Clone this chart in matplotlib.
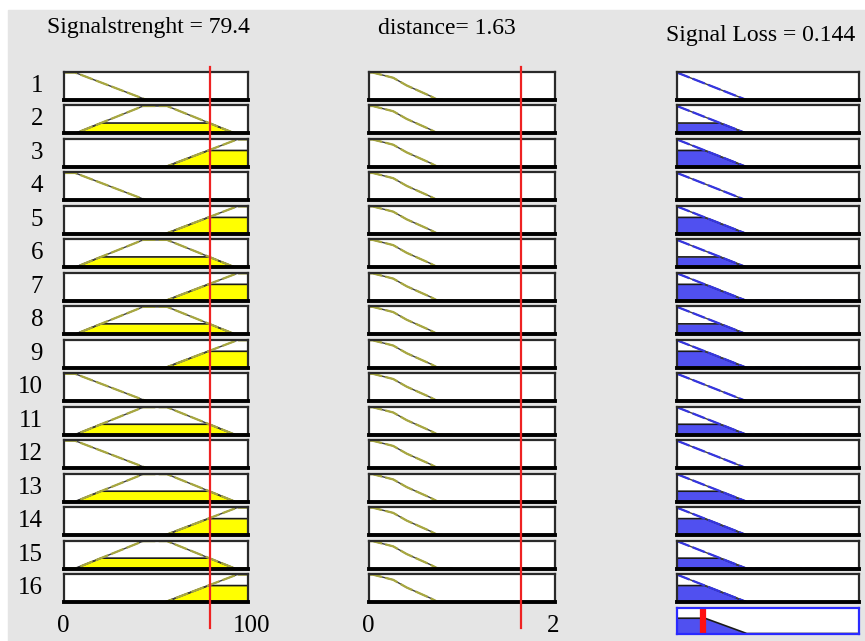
import numpy as np
import matplotlib
matplotlib.use("Agg")
import matplotlib.pyplot as plt
from matplotlib.patches import Rectangle
from matplotlib import transforms

### Data ###

signal_value = 79.4
distance_value = 1.63
loss_value = 0.144

# membership function breakpoints
sig_low_x = [0, 6, 45, 56]
sig_low_y = [1, 1, 0, 0]
sig_med_x = [0, 6, 43, 56, 93, 100]
sig_med_y = [0, 0, 1, 1, 0, 0]
sig_high_x = [43, 55, 94, 100]
sig_high_y = [0, 0, 1, 1]

dist_low_x = [0, 0.04, 0.26, 0.405, 0.55, 0.656, 0.73, 0.9]
dist_low_y = [1, 1, 0.81, 0.53, 0.31, 0.15, 0.02, 0]

loss_x = [0, 0.383, 1]
loss_y = [1, 0, 0]

# which signal MF each rule uses
rule_sig = ['low', 'med', 'high', 'low', 'high', 'med', 'high', 'med',
            'high', 'low', 'med', 'low', 'med', 'high', 'med', 'high']
# firing levels read from the shaded heights
fire_level = {'low': 0.0, 'med': 0.38, 'high': 0.6}

row_labels = [str(i) for i in range(1, 17)]

### Layout ###

W, H = 865, 641
fig = plt.figure(figsize=(W / 100, H / 100), dpi=100)
fig.patch.set_facecolor('white')
fig.patches.append(Rectangle((8 / W, 0), (W - 8) / W, (H - 10) / H,
                             transform=fig.transFigure, color='#e5e5e5', zorder=-10))

plt.rcParams['font.family'] = ['Liberation Serif', 'DejaVu Serif']

def add_ax(x0, y0, w, h):
    return fig.add_axes([x0 / W, 1 - (y0 + h) / H, w / W, h / H])

def style_box(ax, edge='#2a2a2a'):
    ax.set_xticks([])
    ax.set_yticks([])
    ax.set_facecolor('white')
    for s in ax.spines.values():
        s.set_color(edge)
        s.set_linewidth(1.6)
    if edge == '#2a2a2a':
        ax.spines['bottom'].set_color('black')
        ax.spines['bottom'].set_linewidth(2.8)

def jaggy(ax, x, y, col):
    # MATLAB-like stair rendering: dark under, coloured dashes on top
    ax.plot(x, y, color='#404040', lw=1.0)
    ax.plot(x, y, color=col, lw=1.6, dashes=(6, 1.5))

sig_mfs = {'low': (sig_low_x, sig_low_y), 'med': (sig_med_x, sig_med_y),
           'high': (sig_high_x, sig_high_y)}

row_top0, pitch, box_h = 72, 33.47, 28
cols = [(64, 184), (369, 186), (677, 182)]
yellow_line = '#a8a840'
blue_line = '#3535e0'
blue_fill = '#5050f0'

axes1, axes2 = [], []
for i, kind in enumerate(rule_sig):
    top = row_top0 + i * pitch
    lvl = fire_level[kind]

    # signal strength
    ax = add_ax(cols[0][0], top, cols[0][1], box_h)
    style_box(ax)
    mx, my = sig_mfs[kind]
    if lvl > 0:
        xx = np.linspace(mx[0], mx[-1], 400)
        clip = np.minimum(np.interp(xx, mx, my), lvl)
        ax.fill_between(xx, 0, clip, color='#ffff00', lw=0)
        ax.plot(xx, clip, color='#1a1a1a', lw=1.2)
    jaggy(ax, mx, my, yellow_line)
    ax.set_xlim(0, 100)
    ax.set_ylim(0, 1.02)
    axes1.append(ax)
    fig.text(43 / W, 1 - (top + box_h / 2) / H, row_labels[i],
             ha='right', va='center', fontsize=18)

    # distance
    ax = add_ax(cols[1][0], top, cols[1][1], box_h)
    style_box(ax)
    jaggy(ax, dist_low_x, dist_low_y, yellow_line)
    ax.set_xlim(0, 2)
    ax.set_ylim(0, 1.02)
    axes2.append(ax)

    # signal loss
    ax = add_ax(cols[2][0], top, cols[2][1], box_h)
    style_box(ax)
    if lvl > 0:
        xx = np.linspace(0, 1, 400)
        clip = np.minimum(np.interp(xx, loss_x, loss_y), lvl)
        ax.fill_between(xx, 0, clip, color=blue_fill, lw=0)
        ax.plot(xx, clip, color='#1a1a1a', lw=1.2)
    jaggy(ax, loss_x, loss_y, blue_line)
    ax.set_xlim(0, 1)
    ax.set_ylim(0, 1.02)

# aggregated output
top = row_top0 + 16 * pitch
ax = add_ax(cols[2][0], top, cols[2][1], box_h - 2)
style_box(ax, edge='#2a2aff')
agg = max(fire_level[k] for k in rule_sig)
xx = np.linspace(0, 1, 400)
clip = np.minimum(np.interp(xx, loss_x, loss_y), agg)
ax.fill_between(xx, 0, clip, color=blue_fill, lw=0)
ax.plot(xx, clip, color='#1a1a1a', lw=1.2)
ax.axvline(loss_value, color='#ff1010', lw=4.5)
ax.set_xlim(0, 1)
ax.set_ylim(0, 1.02)

# red input markers spanning all rows
for a, v in [(axes1[0], signal_value), (axes2[0], distance_value)]:
    tr = transforms.blended_transform_factory(a.transData, fig.transFigure)
    fig.add_artist(plt.Line2D([v, v], [1 - 67 / H, 1 - 628 / H], transform=tr,
                              color='#ee2222', lw=1.6, zorder=10))

# titles
fig.text(148 / W, 1 - 28 / H, 'Signalstrenght = %.1f' % signal_value,
         ha='center', va='center', fontsize=17)
fig.text(447 / W, 1 - 29 / H, 'distance= %.2f' % distance_value,
         ha='center', va='center', fontsize=17)
fig.text(761 / W, 1 - 36 / H, 'Signal Loss = %.3f' % loss_value,
         ha='center', va='center', fontsize=17)

# axis range labels
for x, s in [(63, '0'), (252, '100'), (368, '0'), (553, '2')]:
    fig.text(x / W, 1 - 626 / H, s, ha='center', va='center', fontsize=18)

fig.savefig('out.png', dpi=100)
